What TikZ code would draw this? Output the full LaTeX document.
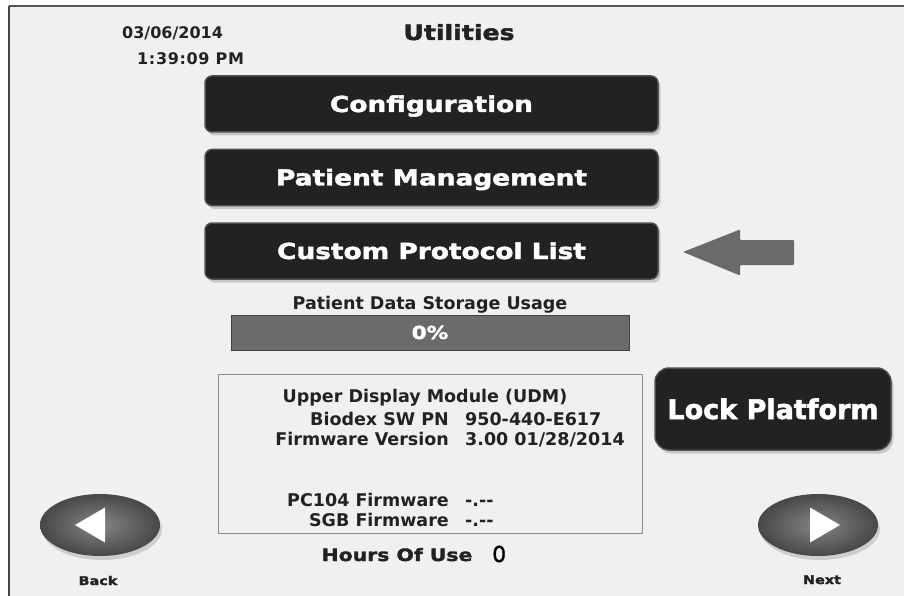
\documentclass[tikz,border=0pt]{standalone}
\usepackage{fontspec}
\setmainfont{DejaVu Sans}
\newfontfamily\dvb{DejaVu Sans Bold}
\newfontfamily\dvbs[LetterSpace=4]{DejaVu Sans Bold}
\newfontfamily\hvy[FakeStretch=1.2,FakeBold=2]{DejaVu Sans Bold}
\newfontfamily\lck[FakeBold=2]{DejaVu Sans Bold}
\newfontfamily\numf[FakeBold=1.2]{DejaVu Sans}
\usetikzlibrary{shadows,shapes.geometric}
\definecolor{bg}{HTML}{F0F0F0}
\definecolor{btn}{HTML}{222222}
\definecolor{btnedge}{HTML}{505050}
\definecolor{txt}{HTML}{222222}
\definecolor{bar}{HTML}{6B6B6B}
\definecolor{frame}{HTML}{555555}
\definecolor{boxedge}{HTML}{8C8C8C}
\definecolor{arrowc}{HTML}{6A6A6A}
\begin{document}
\begin{tikzpicture}[x=1pt,y=-1pt,
  button/.style={rectangle, draw=btnedge, line width=1.5pt, fill=btn, rounded corners=7pt,
    drop shadow={shadow xshift=2.5pt, shadow yshift=-3.5pt, opacity=0.35},
    text=white, font=\hvy\fontsize{22}{24}\selectfont, text height=16pt, text depth=0pt,
    inner sep=0pt, minimum width=453pt, minimum height=56pt},
  small/.style={text=txt, font=\dvb\fontsize{16}{18}\selectfont, inner sep=0pt},
  titlef/.style={text=txt, font=\hvy\fontsize{21}{24}\selectfont, inner sep=0pt},
  info/.style={text=txt, font=\dvb\fontsize{17.5}{20}\selectfont, inner sep=0pt},
  navbtn/.style={ellipse, minimum width=120pt, minimum height=62pt, inner sep=0pt,
    inner color=black!48, outer color=black!72,
    drop shadow={shadow xshift=2pt, shadow yshift=-4pt, opacity=0.3}},
  navlbl/.style={text=txt, font=\hvy\fontsize{12}{14}\selectfont, inner sep=0pt}]
\useasboundingbox (0,0) rectangle (904,596);
\fill[white] (0,0) rectangle (904,596);
\fill[bg] (9,6) rectangle (904,596);
\draw[line width=2pt, frame] (9,6) -- (904,6);
\draw[line width=1.5pt, frame!80!black] (9,6) -- (9,596);

% header
\node[small, anchor=base west] (date) at (122,39) {03/06/2014};
\node[small, font=\dvbs\fontsize{16}{18}\selectfont, anchor=base west] (time) at (137,65) {1:39:09 PM};
\node[titlef, anchor=base] (title) at (459,40) {Utilities};

% buttons
\node[button] (config) at (431.5,104) {Configuration};
\node[button] (patient) at (431.5,177.5) {Patient Management};
\node[button] (custom) at (431.5,251) {Custom Protocol List};

% arrow
\fill[arrowc, rounded corners=1pt] (683,252) -- (740,229.5) -- (740,240) -- (794,240) -- (794,265) -- (740,265) -- (740,275.5) -- cycle;

% storage usage
\node[info, anchor=base] (pdsu) at (430,309) {Patient Data Storage Usage};
\node[rectangle, draw=black!75, line width=1pt, fill=bar, minimum width=398pt, minimum height=35pt,
  inner sep=0pt, text=white, font=\hvy\fontsize{18}{20}\selectfont, text height=13pt, text depth=0pt]
  (bar) at (430,332.5) {0\%};

% info box
\node[rectangle, draw=boxedge, line width=1pt, minimum width=424pt, minimum height=159pt, inner sep=0pt] (infobox) at (430,453.5) {};
\node[info, anchor=base] (udm) at (425,402) {Upper Display Module (UDM)};
\node[info, anchor=base east] (pnl) at (449,425) {Biodex SW PN};
\node[info, anchor=base west] (pnv) at (465,425) {950-440-E617};
\node[info, anchor=base east] (fwl) at (449,445) {Firmware Version};
\node[info, anchor=base west] (fwv) at (465,445) {3.00 01/28/2014};
\node[info, anchor=base east] (pcl) at (449,506) {PC104 Firmware};
\node[info, anchor=base west] (pcv) at (465,506) {-.--};
\node[info, anchor=base east] (sgl) at (449,526) {SGB Firmware};
\node[info, anchor=base west] (sgv) at (465,526) {-.--};

% hours
\node[text=txt, font=\hvy\fontsize{17}{19}\selectfont, inner sep=0pt, anchor=base] (hours) at (397,561) {Hours Of Use};
\node[text=black, font=\numf\fontsize{22}{24}\selectfont, inner sep=0pt, anchor=base west] (hval) at (492,562) {0};

% lock platform
\node[button, minimum width=236pt, minimum height=82pt, rounded corners=14pt,
  font=\lck\fontsize{27}{30}\selectfont, text height=20pt] (lock) at (773,409) {Lock Platform};

% navigation
\node[navbtn] (back) at (100,525) {};
\fill[white] ([xshift=-25pt]back.center) -- ([xshift=5pt,yshift=17.5pt]back.center) -- ([xshift=5pt,yshift=-17.5pt]back.center) -- cycle;
\node[navlbl, anchor=base] (backlbl) at (98,585) {Back};
\node[navbtn] (next) at (818,525) {};
\fill[white] ([xshift=22pt]next.center) -- ([xshift=-8pt,yshift=17.5pt]next.center) -- ([xshift=-8pt,yshift=-17.5pt]next.center) -- cycle;
\node[navlbl, anchor=base] (nextlbl) at (822,584) {Next};
\end{tikzpicture}
\end{document}
